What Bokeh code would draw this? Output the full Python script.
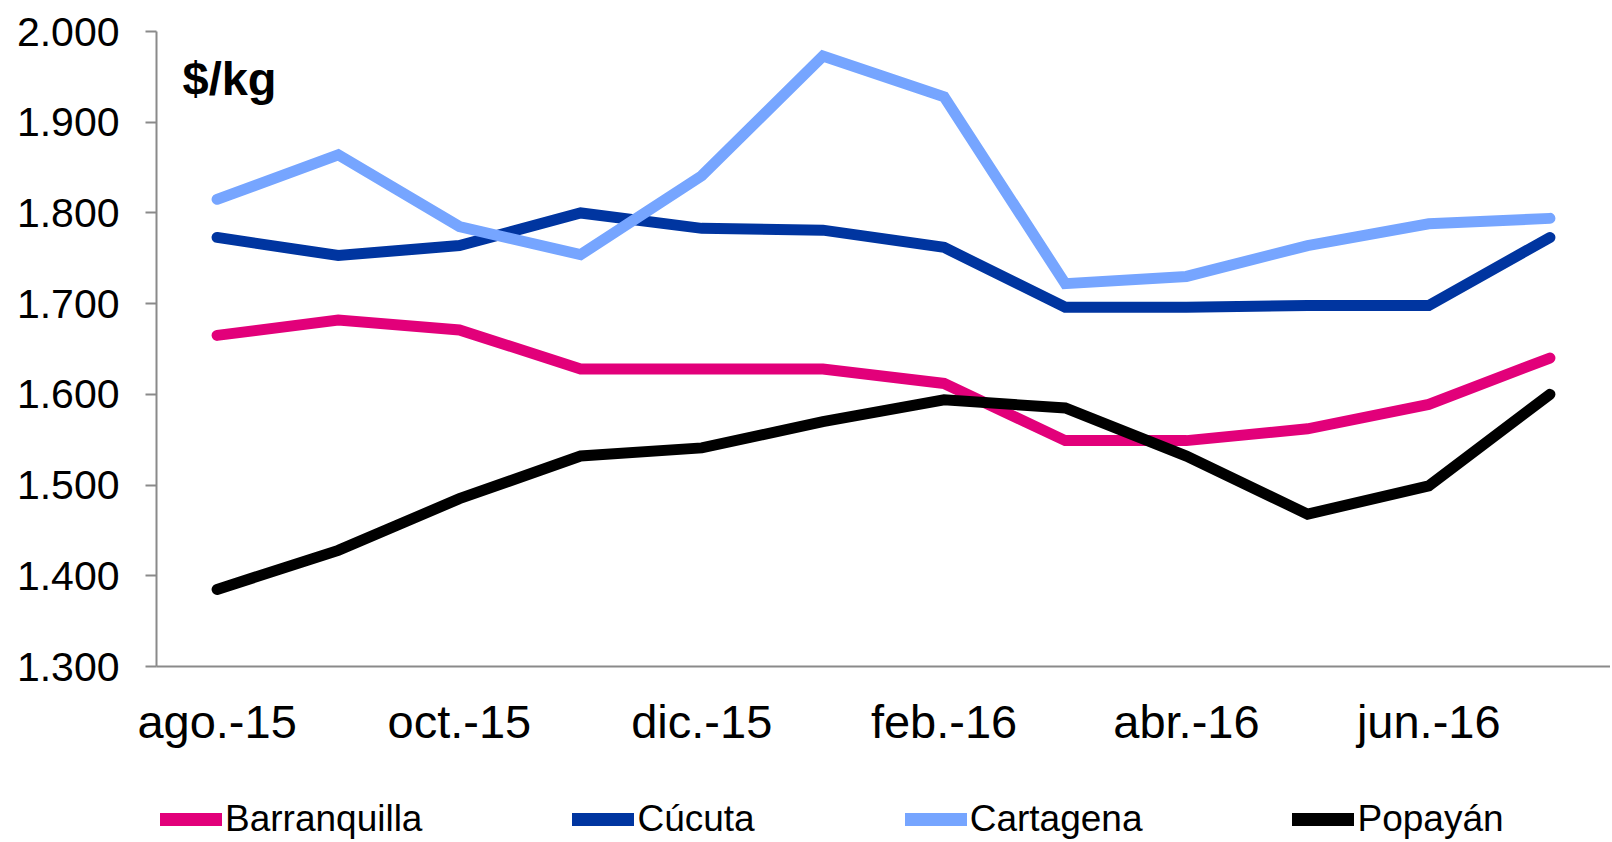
from bokeh.plotting import figure
from bokeh.layouts import column
from bokeh.models import Range1d, FixedTicker, Legend, LegendItem, Label
from bokeh.embed import file_html
from bokeh.resources import INLINE

# ---------------- data ----------------
months = ["ago.-15", "sep.-15", "oct.-15", "nov.-15", "dic.-15", "ene.-16",
          "feb.-16", "mar.-16", "abr.-16", "may.-16", "jun.-16", "jul.-16"]
shown_months = ["ago.-15", "oct.-15", "dic.-15", "feb.-16", "abr.-16", "jun.-16"]

barranquilla = [1665, 1682, 1671, 1628, 1628, 1628, 1612, 1549, 1549, 1562, 1589, 1640]
cucuta       = [1773, 1753, 1764, 1800, 1783, 1781, 1762, 1696, 1696, 1698, 1698, 1773]
cartagena    = [1815, 1864, 1785, 1754, 1841, 1973, 1928, 1722, 1730, 1764, 1788, 1794]
popayan      = [1385, 1428, 1485, 1532, 1541, 1570, 1594, 1585, 1532, 1468, 1499, 1600]

series_names = ["Barranquilla", "Cúcuta", "Cartagena", "Popayán"]
series_values = [barranquilla, cucuta, cartagena, popayan]
series_colors = ["#E2007A", "#0035A0", "#76A5FF", "#000000"]

y_ticks = [1300, 1400, 1500, 1600, 1700, 1800, 1900, 2000]
y_tick_labels = ["1.300", "1.400", "1.500", "1.600", "1.700", "1.800", "1.900", "2.000"]
unit_label = "$/kg"

FONT = "Liberation Sans"
x = list(range(len(months)))

W = 1610
H_MAIN = 770
H_LEG = 70

p = figure(width=W, height=H_MAIN,
           x_range=Range1d(-0.5, len(months) - 0.5),
           y_range=Range1d(1300, 2000),
           output_backend="svg", toolbar_location=None,
           min_border_left=156, min_border_right=0,
           min_border_top=31, min_border_bottom=104)

p.outline_line_color = None
p.xgrid.visible = False
p.ygrid.visible = False
p.background_fill_color = "white"
p.border_fill_color = "white"

# y axis
ya = p.yaxis[0]
ya.ticker = FixedTicker(ticks=y_ticks)
ya.major_label_overrides = {t: l for t, l in zip(y_ticks, y_tick_labels)}
ya.axis_line_color = "#8A8A8A"
ya.axis_line_width = 2
ya.major_tick_line_color = "#8A8A8A"
ya.major_tick_line_width = 2
ya.major_tick_out = 11
ya.major_tick_in = 0
ya.minor_tick_out = 0
ya.minor_tick_in = 0
ya.major_label_standoff = 26
ya.major_label_text_font = FONT
ya.major_label_text_font_size = "41px"
ya.major_label_text_color = "black"

# x axis
xa = p.xaxis[0]
shown_idx = [months.index(m) for m in shown_months]
xa.ticker = FixedTicker(ticks=shown_idx)
xa.major_label_overrides = {i: months[i] for i in shown_idx}
xa.axis_line_color = "#8A8A8A"
xa.axis_line_width = 2
xa.major_tick_out = 0
xa.major_tick_in = 0
xa.minor_tick_out = 0
xa.minor_tick_in = 0
xa.major_label_standoff = 28
xa.major_label_text_font = FONT
xa.major_label_text_font_size = "47px"
xa.major_label_text_color = "black"

for name, vals, col in zip(series_names, series_values, series_colors):
    p.line(x, vals, line_color=col, line_width=11, line_cap="round", line_join="miter")

p.add_layout(Label(x=-0.5, y=1948.2, x_offset=26, text=unit_label,
                   text_font=FONT, text_font_size="47px", text_font_style="bold",
                   text_color="black", text_baseline="alphabetic"))

# ---------------- legend strip ----------------
# same series drawn in a strip whose y range lies outside the data, so only the legend shows
pl = figure(width=W, height=H_LEG, output_backend="svg", toolbar_location=None,
            x_range=Range1d(-0.5, len(months) - 0.5), y_range=Range1d(0, 1),
            x_axis_location=None, y_axis_location=None,
            min_border_left=0, min_border_right=0, min_border_top=0, min_border_bottom=0)
pl.outline_line_color = None
pl.xgrid.visible = False
pl.ygrid.visible = False
pl.border_fill_color = "white"
pl.background_fill_color = "white"

items = []
for name, vals, col in zip(series_names, series_values, series_colors):
    r = pl.line(x, vals, line_color=col, line_width=13, line_cap="round")
    items.append(LegendItem(label=name, renderers=[r]))

legend = Legend(items=items, orientation="horizontal", location=(4, 0),
                spacing=150, padding=0, margin=0,
                glyph_width=62, glyph_height=34, label_height=34,
                label_standoff=3, border_line_color=None,
                background_fill_alpha=0,
                label_text_font=FONT, label_text_font_size="37px",
                label_text_color="black")
pl.add_layout(legend, "center")

layout = column(p, pl, spacing=0)
open("out.html", "w").write(file_html(layout, INLINE))
